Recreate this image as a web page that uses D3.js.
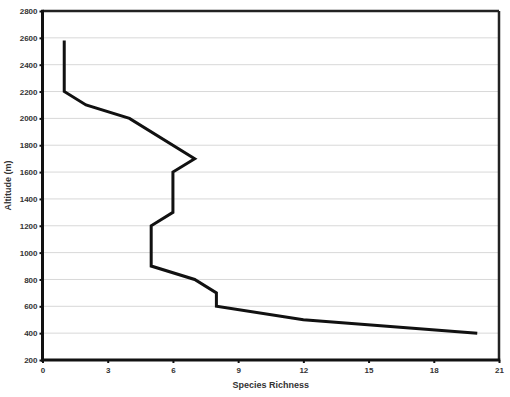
<!DOCTYPE html>
<html><head><meta charset="utf-8">
<script src="https://cdn.jsdelivr.net/npm/d3@7"></script>
<style>body{margin:0;background:#fff}svg{display:block}</style>
</head><body>
<svg id="c" width="510" height="397"></svg>
<script>
const richness = [1, 1, 2, 4, 7, 6, 6, 5, 5, 7, 8, 8, 12, 20];
const altitude = [2580, 2200, 2100, 2000, 1700, 1600, 1300, 1200, 900, 800, 700, 600, 500, 400];
const xTicks = [0, 3, 6, 9, 12, 15, 18, 21];
const yTicks = [200, 400, 600, 800, 1000, 1200, 1400, 1600, 1800, 2000, 2200, 2400, 2600, 2800];

const svg = d3.select("#c");
const L = 42.5, R = 499, T = 11, B = 360;
const x = d3.scaleLinear().domain([0, 21]).range([L, R]);
const y = d3.scaleLinear().domain([200, 2800]).range([B, T]);
const font = "Liberation Sans, Arial, sans-serif";

svg.append("rect").attr("width", 510).attr("height", 397).attr("fill", "#fff");

// gridlines
svg.append("g").selectAll("line").data(yTicks.slice(1, -1)).join("line")
  .attr("x1", L).attr("x2", R).attr("y1", d => y(d)).attr("y2", d => y(d))
  .attr("stroke", "#d8d8d8").attr("stroke-width", 1);

// axes
const yAxis = svg.append("g").attr("transform", `translate(${L},0)`)
  .call(d3.axisLeft(y).tickValues(yTicks).tickSize(3).tickPadding(2).tickFormat(d3.format("d")));
const xAxis = svg.append("g").attr("transform", `translate(0,${B})`)
  .call(d3.axisBottom(x).tickValues(xTicks).tickSize(3).tickPadding(4).tickFormat(d3.format("d")));
[xAxis, yAxis].forEach(a => {
  a.select(".domain").remove();
  a.selectAll(".tick line").attr("stroke", "#111").attr("stroke-width", 2);
  a.selectAll(".tick text").attr("font-family", font).attr("font-size", 8)
    .attr("font-weight", "bold").attr("fill", "#333");
});

// frame
svg.append("line").attr("x1", L).attr("x2", R).attr("y1", T).attr("y2", T).attr("stroke", "#222").attr("stroke-width", 2.5);
svg.append("line").attr("x1", R).attr("x2", R).attr("y1", T).attr("y2", B).attr("stroke", "#222").attr("stroke-width", 2.5);
svg.append("line").attr("x1", L).attr("x2", L).attr("y1", T - 1.2).attr("y2", B + 1.5).attr("stroke", "#111").attr("stroke-width", 3);
svg.append("line").attr("x1", L - 1.5).attr("x2", R + 1.2).attr("y1", B).attr("y2", B).attr("stroke", "#111").attr("stroke-width", 3);

// line
const pts = richness.map((r, i) => [r, altitude[i]]);
svg.append("path").datum(pts)
  .attr("d", d3.line().x(d => x(d[0])).y(d => y(d[1])))
  .attr("fill", "none").attr("stroke", "#111").attr("stroke-width", 3).attr("stroke-linejoin", "miter");

// titles
svg.append("text").attr("x", (L + R) / 2).attr("y", 388).attr("text-anchor", "middle")
  .attr("font-family", font).attr("font-size", 9).attr("font-weight", "bold").attr("fill", "#333")
  .text("Species Richness");
svg.append("text").attr("transform", `translate(11,${(T + B) / 2}) rotate(-90)`).attr("text-anchor", "middle")
  .attr("font-family", font).attr("font-size", 9).attr("font-weight", "bold").attr("fill", "#333")
  .text("Altitude (m)");
</script>
</body></html>
